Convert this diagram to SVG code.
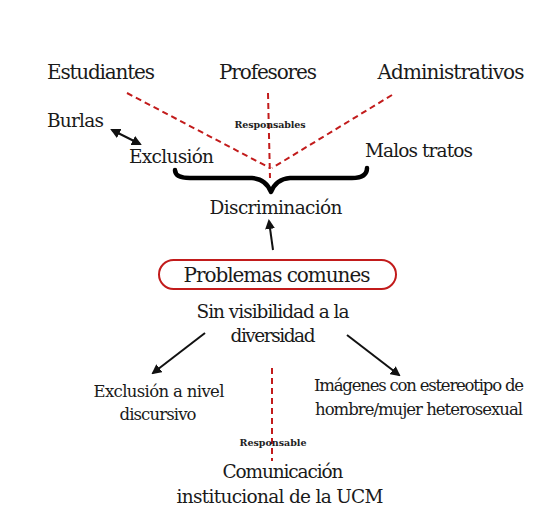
<svg xmlns="http://www.w3.org/2000/svg" width="546" height="511" viewBox="0 0 546 511">
<defs>
<style>
.t{font-family:"DejaVu Serif",serif;fill:#1a1a1a;font-size:18.5px}
.big{font-size:20px}
.mid{font-size:16.5px}
.small{font-family:"DejaVu Serif",serif;font-weight:bold;font-size:9.5px;fill:#222}
.red{stroke:#c21b1b;stroke-width:2;stroke-dasharray:6 4;fill:none}
.arr{stroke:#111;stroke-width:2;fill:none}
</style>
<marker id="ah" viewBox="0 0 10 10" refX="8" refY="5" markerWidth="5" markerHeight="5" orient="auto-start-reverse">
<path d="M0,0 L10,5 L0,10 z" fill="#111"/>
</marker>
</defs>
<rect width="546" height="511" fill="#fff"/>
<g id="connectors">
<line class="red" x1="127" y1="93" x2="270" y2="168"/>
<line class="red" x1="268" y1="93" x2="270" y2="178"/>
<line class="red" x1="392" y1="95" x2="272" y2="168"/>
<line class="red" x1="272" y1="368" x2="272" y2="461"/>
<line class="arr" x1="112" y1="130" x2="140" y2="144" marker-start="url(#ah)" marker-end="url(#ah)"/>
<line class="arr" x1="273" y1="250" x2="269" y2="221" marker-end="url(#ah)"/>
<line class="arr" x1="205" y1="333" x2="153" y2="373" marker-end="url(#ah)"/>
<line class="arr" x1="347" y1="335" x2="399" y2="375" marker-end="url(#ah)"/>
<path d="M175,170 Q175,178 190,178 L252,178 Q266,179 271,192 Q276,179 290,178 L352,178 Q367,178 367,168" stroke="#000" stroke-width="4.5" fill="none" stroke-linecap="round" stroke-linejoin="round"/>
</g>
<g id="n-estudiantes"><text class="t big" x="101" y="79" text-anchor="middle" textLength="108">Estudiantes</text></g>
<g id="n-profesores"><text class="t big" x="268" y="79" text-anchor="middle" textLength="98">Profesores</text></g>
<g id="n-administrativos"><text class="t big" x="451" y="79" text-anchor="middle" textLength="147">Administrativos</text></g>
<g id="n-responsables"><text class="small" x="270" y="128" text-anchor="middle" textLength="71">Responsables</text></g>
<g id="n-burlas"><text class="t" x="47" y="127" textLength="57">Burlas</text></g>
<g id="n-exclusion"><text class="t" x="129" y="163" textLength="85">Exclusión</text></g>
<g id="n-malos"><text class="t" x="365" y="157" textLength="108">Malos tratos</text></g>
<g id="n-discriminacion"><text class="t" x="276" y="214" text-anchor="middle" textLength="133">Discriminación</text></g>
<g id="n-problemas">
<rect x="159" y="260" width="237" height="29" rx="14.5" fill="none" stroke="#c21b1b" stroke-width="2"/>
<text class="t big" x="277" y="282" text-anchor="middle" textLength="187">Problemas comunes</text>
</g>
<g id="n-sinvisibilidad">
<text class="t" x="273" y="318" text-anchor="middle" textLength="153">Sin visibilidad a la</text>
<text class="t" x="273" y="342" text-anchor="middle" textLength="85">diversidad</text>
</g>
<g id="n-exclusion-discursivo">
<text class="t mid" x="159" y="397" text-anchor="middle" textLength="131">Exclusión a nivel</text>
<text class="t mid" x="158" y="420" text-anchor="middle" textLength="77">discursivo</text>
</g>
<g id="n-imagenes">
<text class="t mid" x="419" y="391" text-anchor="middle" textLength="210">Imágenes con estereotipo de</text>
<text class="t mid" x="419" y="415" text-anchor="middle" textLength="208">hombre/mujer heterosexual</text>
</g>
<g id="n-responsable"><text class="small" x="273" y="446" text-anchor="middle" textLength="67">Responsable</text></g>
<g id="n-comunicacion">
<text class="t" x="283" y="478" text-anchor="middle" textLength="121">Comunicación</text>
<text class="t" x="280" y="503" text-anchor="middle" textLength="207">institucional de la UCM</text>
</g>
</svg>
